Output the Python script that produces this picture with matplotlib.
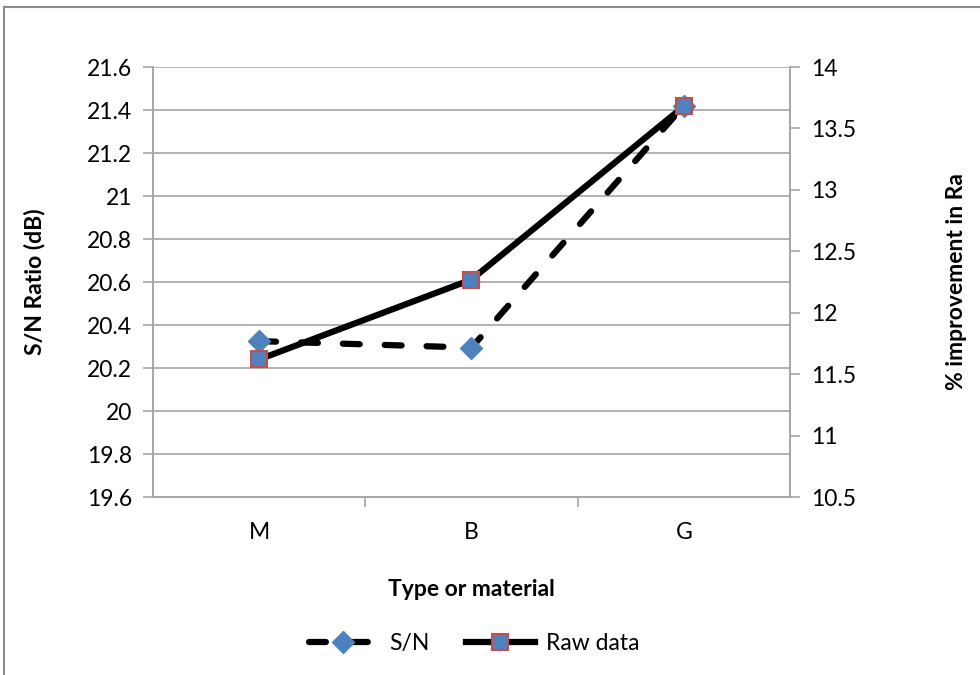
import matplotlib.pyplot as plt
from matplotlib.lines import Line2D

plt.rcParams['font.family'] = ['Lato', 'DejaVu Sans']

categories = ['M', 'B', 'G']
sn_ratio = [20.325, 20.295, 21.42]
raw_data = [11.62, 12.27, 13.68]

sn_ticks = [19.6, 19.8, 20, 20.2, 20.4, 20.6, 20.8, 21, 21.2, 21.4, 21.6]
raw_ticks = [10.5, 11, 11.5, 12, 12.5, 13, 13.5, 14]

blue = '#4F81BD'
red = '#C0504D'
grid_c = '#A6A6A6'
fs = 16.5
lw = 4.5
dash = (0, (2.7, 4.0))

fig = plt.figure(figsize=(9.8, 6.75), dpi=100)
ax = fig.add_axes([0.1561, 0.2637, 0.65, 0.637])
ax2 = ax.twinx()

x = list(range(len(categories)))

ax.plot(x, sn_ratio, color='black', lw=lw, ls=dash, dash_capstyle='round',
        marker='D', ms=11, mfc=blue, mec=blue, zorder=3)
ax2.plot(x, raw_data, color='black', lw=lw, solid_capstyle='round',
         marker='s', ms=12, mfc=blue, mec=red, mew=1.5, zorder=3)

ax.set_xlim(-0.5, 2.5)
ax.set_ylim(19.6, 21.6)
ax2.set_ylim(10.5, 14)
ax.set_yticks(sn_ticks)
ax.set_yticklabels([f'{t:g}' for t in sn_ticks])
ax2.set_yticks(raw_ticks)
ax2.set_yticklabels([f'{t:g}' for t in raw_ticks])

ax.set_xticks(x)
ax.set_xticklabels(categories)
ax.set_xticks([0.5, 1.5], minor=True)
ax.tick_params(axis='x', which='major', length=0, pad=18, labelsize=fs)
ax.tick_params(axis='x', which='minor', length=7, color=grid_c, width=1.2, direction='out')
ax.tick_params(axis='y', length=7, color=grid_c, width=1.2, labelsize=fs, pad=8)
ax2.tick_params(axis='y', length=7, color=grid_c, width=1.2, labelsize=fs, pad=8)

ax.grid(axis='y', color=grid_c, lw=1.2)
ax.set_axisbelow(True)
for a in (ax, ax2):
    a.spines['top'].set_visible(False)
    for s in ('left', 'right', 'bottom'):
        a.spines[s].set_color(grid_c)
        a.spines[s].set_linewidth(1.2)

ax.set_ylabel('S/N Ratio (dB)', fontsize=fs, fontweight='bold', labelpad=30)
ax2.set_ylabel('% improvement in Ra', fontsize=fs, fontweight='bold', rotation=90, labelpad=65)
ax.set_xlabel('Type or material', fontsize=fs, fontweight='bold', labelpad=26)

handles = [
    Line2D([], [], color='black', lw=lw, ls=dash, dash_capstyle='round',
           marker='D', ms=11, mfc=blue, mec=blue),
    Line2D([], [], color='black', lw=lw, marker='s', ms=12, mfc=blue, mec=red, mew=1.5),
]
fig.legend(handles, ['S/N', 'Raw data'], loc='center', bbox_to_anchor=(0.484, 0.047),
           ncol=2, frameon=False, fontsize=fs, handlelength=3.0, columnspacing=1.6,
           handletextpad=0.5)

# outer chart frame
fig.add_artist(Line2D([4 / 980, 4 / 980], [0, 1 - 7 / 675], color='#8C8C8C', lw=1.5))
fig.add_artist(Line2D([4 / 980, 1], [1 - 7 / 675, 1 - 7 / 675], color='#8C8C8C', lw=1.5))

fig.savefig('out.png', dpi=100)
